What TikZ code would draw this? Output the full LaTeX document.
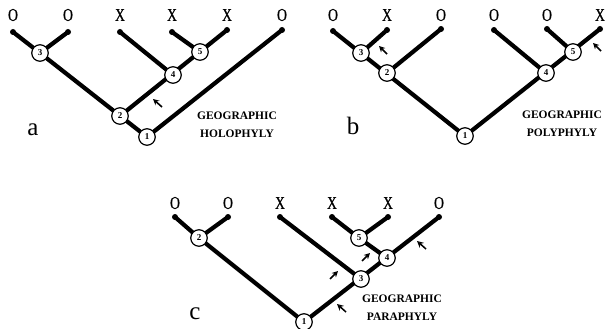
\documentclass[tikz,border=0pt]{standalone}
\usepackage{fontspec}
\setmainfont{Liberation Serif}
\newfontfamily\condfont[FakeStretch=0.75,FakeBold=0.8]{Liberation Serif}
\usetikzlibrary{arrows.meta}
\tikzset{
  br/.style={line width=4.2pt, line cap=round},
  nd/.style={circle, draw, line width=1.2pt, fill=white, minimum size=16.5pt, inner sep=0pt, font=\bfseries\fontsize{9}{9}\selectfont},
  lf/.style={font=\condfont\fontsize{18}{18}\selectfont, inner sep=0pt},
  leafdot/.style={circle, fill=black, minimum size=6pt, inner sep=0pt},
  captxt/.style={font=\bfseries\fontsize{11.5}{11.5}\selectfont, inner sep=0pt},
  pan/.style={font=\fontsize{25}{25}\selectfont, inner sep=0pt},
  fa/.style={-{Stealth[length=6pt,width=6pt]}, line width=1.6pt},
  oa/.style={-{Stealth[open,length=6.5pt,width=6.5pt,line width=1.1pt]}, line width=1.5pt}
}
\begin{document}
\begin{tikzpicture}[x=1pt,y=-1pt]
\useasboundingbox (0,0) rectangle (605,329);
% ---------- panel a ----------
\foreach \n/\x/\y/\t in {a1/13/32/O, a2/68/32/O, a3/120/32/X, a4/172/32/X, a5/227/30/X, a6/282/30/O}{
  \node[leafdot] (\n) at (\x,\y) {};
  \node[lf] (\n t) at (\x,15) {\t};
}
\coordinate (aN1) at (147,137);
\coordinate (aN2) at (120,116);
\coordinate (aN3) at (40,53);
\coordinate (aN4) at (173,75);
\coordinate (aN5) at (200,52);
\draw[br] (a1.center) -- (aN3) -- (a2.center);
\draw[br] (aN3) -- (aN1) -- (a6.center);
\draw[br] (aN2) -- (a5.center);
\draw[br] (a3.center) -- (aN4);
\draw[br] (a4.center) -- (aN5);
\foreach \k in {1,...,5}{ \node[nd] (na\k) at (aN\k) {\k}; }
\coordinate (aAt) at (162,107); \coordinate (aAh) at (153,99);
\draw[fa] (aAt) -- (aAh);
\node[captxt] (acap1) at (237,116) {GEOGRAPHIC};
\node[captxt] (acap2) at (237,134) {HOLOPHYLY};
\node[pan] (alab) at (33,130) {a};
% ---------- panel b ----------
\foreach \n/\x/\y/\t in {b1/333/31/O, b2/387/30/X, b3/441/29/O, b4/494/30/O, b5/547/29/O, b6/600/29/X}{
  \node[leafdot] (\n) at (\x,\y) {};
  \node[lf] (\n t) at (\x,15) {\t};
}
\coordinate (bN1) at (465,136);
\coordinate (bN2) at (387,73);
\coordinate (bN3) at (361,53);
\coordinate (bN4) at (546,73);
\coordinate (bN5) at (573,52);
\draw[br] (b1.center) -- (bN1) -- (b6.center);
\draw[br] (bN3) -- (b2.center);
\draw[br] (bN2) -- (b3.center);
\draw[br] (bN4) -- (b4.center);
\draw[br] (bN5) -- (b5.center);
\foreach \k in {1,...,5}{ \node[nd] (nb\k) at (bN\k) {\k}; }
\coordinate (bAt1) at (387,54); \coordinate (bAh1) at (379,46);
\draw[fa] (bAt1) -- (bAh1);
\coordinate (bAt2) at (601,51); \coordinate (bAh2) at (593,43);
\draw[fa] (bAt2) -- (bAh2);
\node[captxt] (bcap1) at (562,115) {GEOGRAPHIC};
\node[captxt] (bcap2) at (562,133) {POLYPHYLY};
\node[pan] (blab) at (353,126) {b};
% ---------- panel c ----------
\foreach \n/\x/\y/\t in {c1/175/217/O, c2/228/217/O, c3/280/217/X, c4/332/217/X, c5/388/217/X, c6/439/217/O}{
  \node[leafdot] (\n) at (\x,\y) {};
  \node[lf] (\n t) at (\x,203) {\t};
}
\coordinate (cN1) at (304,322);
\coordinate (cN2) at (199,238);
\coordinate (cN3) at (361,279);
\coordinate (cN4) at (387,258);
\coordinate (cN5) at (359,238);
\draw[br] (c1.center) -- (cN2) -- (c2.center);
\draw[br] (cN2) -- (cN1) -- (c6.center);
\draw[br] (c3.center) -- (cN3);
\draw[br] (c4.center) -- (cN5) -- (c5.center);
\draw[br] (cN5) -- (cN4);
\foreach \k in {1,...,5}{ \node[nd] (nc\k) at (cN\k) {\k}; }
\coordinate (cAt1) at (330,279); \coordinate (cAh1) at (338,271);
\draw[fa] (cAt1) -- (cAh1);
\coordinate (cAt2) at (362,261); \coordinate (cAh2) at (370,253);
\draw[fa] (cAt2) -- (cAh2);
\coordinate (cAt3) at (426,249); \coordinate (cAh3) at (417,241);
\draw[oa] (cAt3) -- (cAh3);
\coordinate (cAt4) at (346,312); \coordinate (cAh4) at (337,304);
\draw[oa] (cAt4) -- (cAh4);
\node[captxt] (ccap1) at (402,299) {GEOGRAPHIC};
\node[captxt] (ccap2) at (402,317) {PARAPHYLY};
\node[pan] (clab) at (195,314) {c};
\end{tikzpicture}
\end{document}
